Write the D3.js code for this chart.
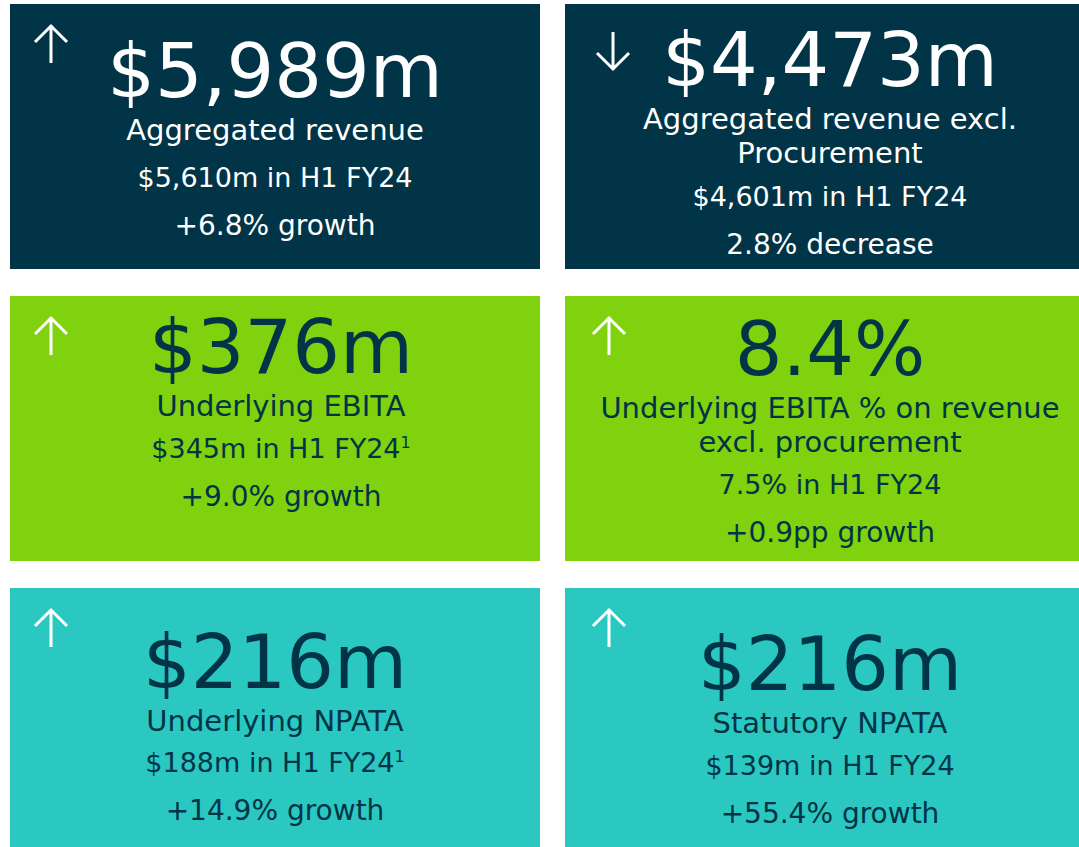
<!DOCTYPE html>
<html lang="en">
<head>
    <meta charset="utf-8">
    <title>H1 FY25 key metrics</title>
    <script src="https://cdn.jsdelivr.net/npm/d3@7"></script>
    <style>
        html, body {
            margin: 0;
            padding: 0;
            background: #ffffff;
        }
        svg {
            display: block;
            font-family: Verdana, "DejaVu Sans", sans-serif;
        }
    </style>
</head>
<body>
    <svg id="chart" width="1079" height="847"></svg>

    <script>
        // Tile data (reading order: left to right, top to bottom)
        const headline = ["$5,989m", "$4,473m", "$376m", "8.4%", "$216m", "$216m"];
        const metricLabel = [
            ["Aggregated revenue"],
            ["Aggregated revenue excl.", "Procurement"],
            ["Underlying EBITA"],
            ["Underlying EBITA % on revenue", "excl. procurement"],
            ["Underlying NPATA"],
            ["Statutory NPATA"]
        ];
        const priorPeriod = ["$5,610m in H1 FY24", "$4,601m in H1 FY24", "$345m in H1 FY24",
                             "7.5% in H1 FY24", "$188m in H1 FY24", "$139m in H1 FY24"];
        const footnote = ["", "", "1", "", "1", ""];
        const change = ["+6.8% growth", "2.8% decrease", "+9.0% growth",
                        "+0.9pp growth", "+14.9% growth", "+55.4% growth"];
        const direction = ["up", "down", "up", "up", "up", "up"];
        const rowNames = ["revenue", "ebita", "npata"];
        const colNames = ["left", "right"];

        const rowFill = { revenue: "#003446", ebita: "#80d10e", npata: "#2ac8c1" };
        const rowText = { revenue: "#ffffff", ebita: "#003446", npata: "#003446" };

        const tiles = headline.map((h, i) => ({
            headline: h,
            label: metricLabel[i],
            prior: priorPeriod[i],
            note: footnote[i],
            change: change[i],
            dir: direction[i],
            row: rowNames[Math.floor(i / 2)],
            col: colNames[i % 2]
        }));

        const svg = d3.select("#chart");

        const x = d3.scaleBand().domain(colNames).range([10, 1095]).paddingInner(25 / 555);
        const y = d3.scaleBand().domain(rowNames).range([4, 853]).paddingInner(0.0925);

        // layout tweaks per tile: text centre, headline baseline (from tile top),
        // and gap to the prior-period line
        const textX = [265, 265, 271, 265, 265, 265];
        const headBase = [93, 82, 77, 79, 100, 102];
        const priorGap = [47, 43, 42, 42, 41, 42];

        const g = svg.selectAll("g.tile")
            .data(tiles)
            .join("g")
            .attr("class", "tile")
            .attr("transform", d => `translate(${x(d.col)},${y(d.row)})`);

        g.append("rect")
            .attr("width", x.bandwidth())
            .attr("height", y.bandwidth())
            .attr("fill", d => rowFill[d.row]);

        // arrows
        g.append("path")
            .attr("transform", d => d.dir === "up"
                ? `translate(${d.col === "left" ? 41 : 44},21)`
                : "translate(48,28)")
            .attr("d", d => d.dir === "up"
                ? "M0,38V0M-16,17L0,1L16,17"
                : "M0,0V38M-16,21L0,37L16,21")
            .attr("fill", "none")
            .attr("stroke", "#ffffff")
            .attr("stroke-width", 3);

        g.each(function(d, i) {
            const t = d3.select(this);
            const color = rowText[d.row];
            const base = headBase[i];
            const cx = textX[i];

            t.append("text")
                .attr("x", cx)
                .attr("y", base)
                .attr("text-anchor", "middle")
                .attr("font-size", 75)
                .attr("fill", color)
                .text(d.headline);

            let yy = base + 43;
            d.label.forEach((line, k) => {
                t.append("text")
                    .attr("x", cx)
                    .attr("y", yy + k * 34)
                    .attr("text-anchor", "middle")
                    .attr("font-size", 29)
                    .attr("fill", color)
                    .text(line);
            });
            yy += (d.label.length - 1) * 34 + priorGap[i];

            const p = t.append("text")
                .attr("x", cx)
                .attr("y", yy)
                .attr("text-anchor", "middle")
                .attr("font-size", 27)
                .attr("fill", color);
            p.append("tspan").text(d.prior);
            if (d.note) {
                p.append("tspan")
                    .attr("font-size", 16)
                    .attr("dy", -10)
                    .text(d.note);
            }

            t.append("text")
                .attr("x", cx)
                .attr("y", yy + 48)
                .attr("text-anchor", "middle")
                .attr("font-size", 28)
                .attr("fill", color)
                .text(d.change);
        });
    </script>
</body>
</html>
